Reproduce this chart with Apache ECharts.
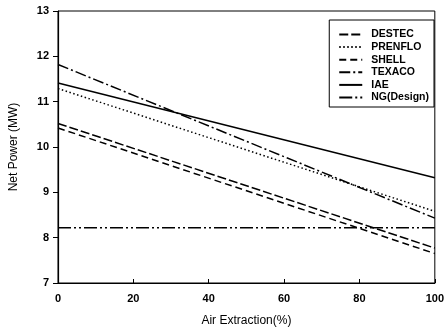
<!DOCTYPE html>
<html><head><meta charset="utf-8">
<script src="https://cdn.jsdelivr.net/npm/echarts@6/dist/echarts.min.js"></script>
<style>html,body{margin:0;padding:0;background:#fff}#c{width:447px;height:336px}</style>
</head><body><div id="c"></div>
<script>
const xValues = [0, 100];
const destec = [10.52, 7.77];
const prenflo = [11.29, 8.58];
const shell = [10.42, 7.65];
const texaco = [11.82, 8.43];
const iae = [11.41, 9.32];
const ngDesign = [8.22, 8.22];
const seriesNames = ['DESTEC', 'PRENFLO', 'SHELL', 'TEXACO', 'IAE', 'NG(Design)'];
const seriesData = [destec, prenflo, shell, texaco, iae, ngDesign];
const dashTypes = [[9, 3], [1.5, 2.5], [7, 4], [11, 3, 2, 3], 'solid', [13, 3, 2, 3, 2, 3]];
const fontFam = '"Liberation Sans", Arial, sans-serif';
const chart = echarts.init(document.getElementById('c'));
chart.setOption({
  animation: false,
  backgroundColor: '#fff',
  grid: {left: 53, right: 9, top: 11, bottom: 53, show: true, borderColor: '#000', borderWidth: 1},
  legend: {
    right: 13, top: 20, orient: 'vertical', itemWidth: 23, itemHeight: 8, itemGap: 1.6,
    padding: [9, 5, 4, 9], borderColor: '#000', borderWidth: 1, backgroundColor: '#fff',
    itemStyle: {opacity: 0},
    textStyle: {fontFamily: fontFam, fontWeight: 'bold', fontSize: 10.5, color: '#000', padding: [0, 0, 0, 4]},
    data: seriesNames
  },
  xAxis: {
    type: 'value', min: 0, max: 100, interval: 20,
    name: 'Air Extraction(%)', nameLocation: 'middle', nameGap: 32,
    nameTextStyle: {fontFamily: fontFam, fontSize: 12, color: '#000'},
    axisLine: {lineStyle: {color: '#000', width: 1.2}},
    axisTick: {inside: true, length: 4, lineStyle: {color: '#000'}},
    axisLabel: {fontFamily: fontFam, fontWeight: 'bold', fontSize: 11, color: '#000', margin: 10},
    splitLine: {show: false}
  },
  yAxis: {
    type: 'value', min: 7, max: 13, interval: 1,
    name: 'Net Power (MW)', nameLocation: 'middle', nameGap: 38,
    nameTextStyle: {fontFamily: fontFam, fontSize: 12, color: '#000'},
    axisLine: {show: true, lineStyle: {color: '#000', width: 1.2}},
    axisTick: {show: true, length: 5, lineStyle: {color: '#000'}},
    axisLabel: {fontFamily: fontFam, fontWeight: 'bold', fontSize: 11, color: '#000', margin: 9},
    splitLine: {show: false}
  },
  series: seriesNames.map((n, i) => ({
    name: n, type: 'line', symbol: 'none', silent: true,
    data: xValues.map((x, j) => [x, seriesData[i][j]]),
    lineStyle: {color: '#000', width: 1.5, type: dashTypes[i]},
    itemStyle: {color: '#000'}
  }))
});
</script></body></html>
